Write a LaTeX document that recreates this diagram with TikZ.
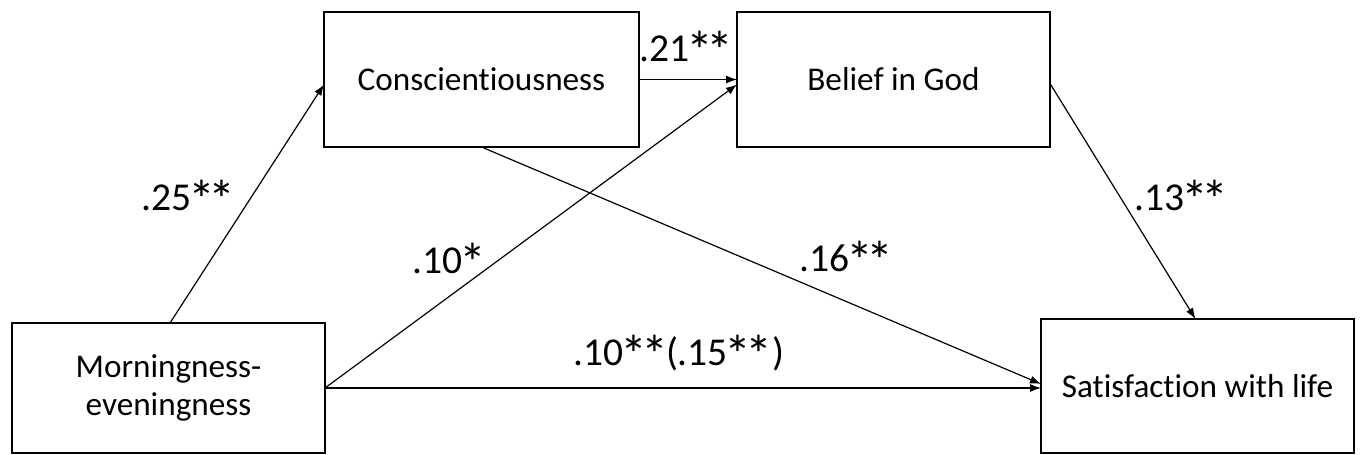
\documentclass[tikz,border=0pt]{standalone}
\usepackage{fontspec}
\setmainfont{Carlito}[Ligatures=NoCommon]
\usetikzlibrary{arrows.meta,calc}
\newcommand\myast{\begingroup\setbox0\hbox{*}\hbox to 1.05\wd0{\hss\raisebox{-8pt}{\fontsize{54}{54}\selectfont *}\hss}\endgroup}
\begin{document}
\begin{tikzpicture}[x=1pt,y=-1pt,
  box/.style={draw=black,line width=2.6pt,rectangle,inner sep=0pt,outer sep=0pt,align=center,
    font=\fontsize{33.2}{38}\selectfont},
  lab/.style={inner sep=0pt,font=\fontsize{39.5}{44}\selectfont},
  arr/.style={line width=1.2pt,-{Latex[length=11pt,width=8pt]}}]
\useasboundingbox (0,0) rectangle (1361,455);
\node[box,minimum width=315,minimum height=135] (cons) at (481.5,79.5) {Conscientiousness};
\node[box,minimum width=313,minimum height=135] (god) at (893.5,79.5) {Belief in God};
\node[box,minimum width=313,minimum height=130] (me) at (168.5,388) {Morningness-\\eveningness};
\node[box,minimum width=313,minimum height=134] (swl) at (1197.5,386) {Satisfaction with life};
\coordinate (meN) at (170,323);
\draw[arr] (meN) -- ([yshift=-5pt]cons.west);
\draw[arr] (cons.east) -- (god.west);
\draw[arr] (me.east) -- ([yshift=-5pt]god.west);
\draw[arr] (me.east) -- (me.east -| swl.west);
\draw[arr] (cons.south) -- ([yshift=2pt]swl.west);
\draw[arr] ([yshift=-4pt]god.east) -- ([xshift=-2pt]swl.north);
\node[lab] (l1) at (187,199) {.25\myast\myast};
\node[lab] (l2) at (685,50) {.21\myast\myast};
\node[lab] (l3) at (448,262) {.10\myast};
\node[lab] (l4) at (845,260) {.16\myast\myast};
\node[lab] (l5) at (1180,199) {.13\myast\myast};
\node[lab] (l6) at (679,354) {.10\myast\myast\kern1pt(.15\myast\myast\kern3pt)};
\end{tikzpicture}
\end{document}
